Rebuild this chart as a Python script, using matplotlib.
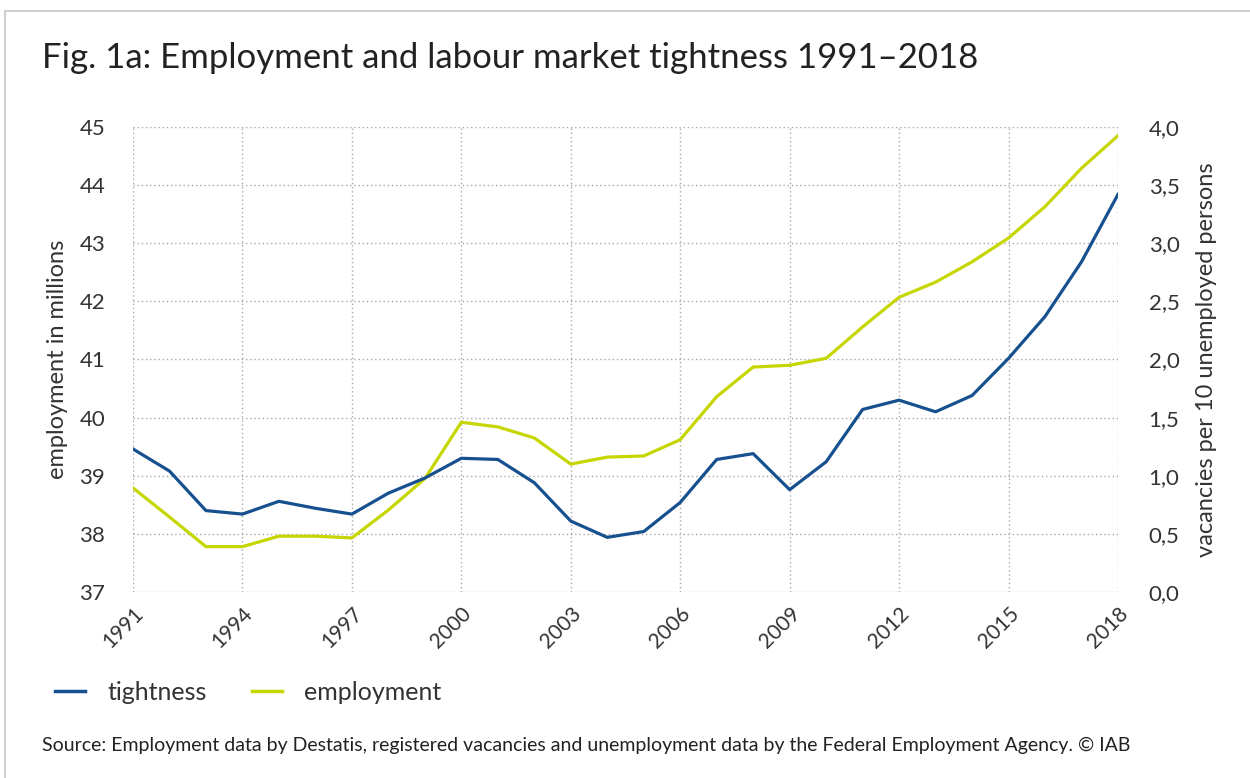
import matplotlib.pyplot as plt
from matplotlib.lines import Line2D
import numpy as np

plt.rcParams['font.family'] = ['Lato', 'DejaVu Sans']

years = list(range(1991, 2019))
# employment in millions (left axis)
employment = [38.79, 38.29, 37.78, 37.78, 37.96, 37.96, 37.93, 38.41, 38.95, 39.92,
              39.84, 39.65, 39.20, 39.32, 39.34, 39.62, 40.36, 40.87, 40.90, 41.02,
              41.56, 42.07, 42.33, 42.68, 43.09, 43.63, 44.29, 44.85]
# vacancies per 10 unemployed persons (right axis)
tightness = [1.23, 1.04, 0.70, 0.67, 0.78, 0.72, 0.67, 0.85, 0.98, 1.15,
             1.14, 0.94, 0.61, 0.47, 0.52, 0.77, 1.14, 1.19, 0.88, 1.12,
             1.57, 1.65, 1.55, 1.69, 2.01, 2.37, 2.84, 3.42]
year_ticks = list(range(1991, 2019, 3))
left_ticks = list(range(37, 46))
right_ticks = [0.0, 0.5, 1.0, 1.5, 2.0, 2.5, 3.0, 3.5, 4.0]

blue = '#16508e'
yellow = '#c5d600'
text_col = '#333333'
grid_col = '#a8a8a8'

fig = plt.figure(figsize=(12.5, 7.78), dpi=100)
ax = fig.add_axes([0.1064, 0.2391, 0.788, 0.5977])
ax2 = ax.twinx()

ax.plot(years, employment, color=yellow, lw=2.3, zorder=3)
ax2.plot(years, tightness, color=blue, lw=2.3, zorder=3)

ax.set_xlim(1991, 2018)
ax.set_ylim(37, 45)
ax2.set_ylim(0, 4)
ax.set_xticks(year_ticks)
ax.set_xticklabels([str(y) for y in year_ticks], rotation=45, ha='right',
                   rotation_mode='anchor', fontsize=15, color=text_col)
ax.set_yticks(left_ticks)
ax.set_yticklabels([str(v) for v in left_ticks], fontsize=16, color=text_col)
ax2.set_yticks(right_ticks)
ax2.set_yticklabels([f'{v:.1f}'.replace('.', ',') for v in right_ticks],
                    fontsize=16, color=text_col)

for a in (ax, ax2):
    for s in a.spines.values():
        s.set_visible(False)
    a.tick_params(length=0)
ax.tick_params(axis='x', pad=8)
ax.tick_params(axis='y', pad=20)
ax2.tick_params(axis='y', pad=22)

ax.grid(True, which='major', color=grid_col, ls=(0, (1, 2)), lw=1.0)
ax.set_axisbelow(True)

ax.set_ylabel('employment in millions', fontsize=17, color=text_col, labelpad=8)
ax2.set_ylabel('vacancies per 10 unemployed persons', fontsize=17,
               color=text_col, labelpad=12)

fig.text(0.034, 0.925, 'Fig. 1a: Employment and labour market tightness 1991\u20132018',
         fontsize=25, color='#222222', va='center', ha='left')

handles = [Line2D([], [], color=blue, lw=2.5), Line2D([], [], color=yellow, lw=2.5)]
fig.legend(handles, ['tightness', 'employment'], loc='center left',
           bbox_to_anchor=(0.026, 0.11), ncol=2, frameon=False, fontsize=18,
           handlelength=1.2, columnspacing=1.8, handletextpad=0.9,
           labelcolor=text_col)

fig.text(0.034, 0.042, 'Source: Employment data by Destatis, registered vacancies and '
         'unemployment data by the Federal Employment Agency. \u00a9 IAB',
         fontsize=14, color='#222222', va='center', ha='left')

# card border on top and left
fig.add_artist(Line2D([0.004, 1.0], [0.986, 0.986], color='#d0d0d0', lw=1.5))
fig.add_artist(Line2D([0.004, 0.004], [0.0, 0.986], color='#d0d0d0', lw=1.5))

fig.savefig('out.png', dpi=100)
